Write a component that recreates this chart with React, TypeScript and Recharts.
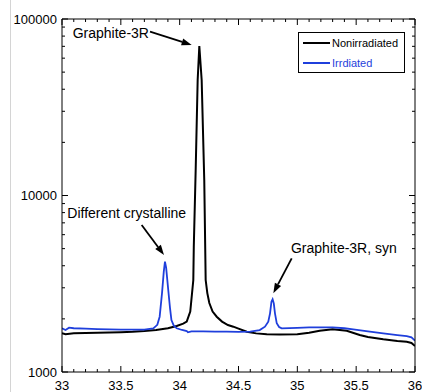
import React from "react"
import {
  LineChart,
  Line,
  XAxis,
  YAxis,
  Legend,
  ReferenceLine,
  ReferenceDot,
} from "recharts"

// ── Data ──────────────────────────────────────────────────────────────────────

// 2θ positions and counts
const nonirrX = [
  33.0, 33.03, 33.1, 33.2, 33.3, 33.4, 33.5, 33.6, 33.7, 33.8, 33.9, 33.975,
  34.03, 34.06, 34.09, 34.116, 34.12, 34.136, 34.153, 34.167, 34.187, 34.209,
  34.221, 34.235, 34.252, 34.28, 34.315, 34.36, 34.41, 34.456, 34.5, 34.57,
  34.65, 34.74, 34.85, 35.0, 35.1, 35.19, 35.3, 35.42, 35.53, 35.6, 35.73,
  35.85, 35.93, 35.97, 36.0,
]
const nonirrY = [
  1656, 1635, 1660, 1665, 1670, 1675, 1680, 1688, 1705, 1729, 1770, 1822,
  1880, 1930, 2200, 3320, 5110, 13900, 45100, 70300, 45100, 12240,
  3320, 2800, 2460, 2200, 2057, 1930, 1846, 1806, 1760, 1692,
  1655, 1635, 1630, 1635, 1670, 1714, 1746, 1714, 1620, 1580, 1532,
  1500, 1484, 1460, 1404,
]

const irrX = [
  33.0, 33.03, 33.06, 33.1, 33.2, 33.3, 33.4, 33.5, 33.6, 33.7, 33.776, 33.81,
  33.83, 33.85, 33.865, 33.875, 33.885, 33.903, 33.918, 33.93, 33.95, 33.975,
  34.02, 34.06, 34.07, 34.1, 34.2, 34.3, 34.4, 34.5, 34.6, 34.68, 34.725,
  34.753, 34.768, 34.78, 34.79, 34.8, 34.81, 34.825, 34.845, 34.867, 35.0,
  35.1, 35.2, 35.3, 35.4, 35.475, 35.6, 35.73, 35.85, 35.93, 35.97, 36.0,
]
const irrY = [
  1768, 1729, 1782, 1770, 1760, 1750, 1745, 1740, 1740, 1740, 1768, 1850,
  2057, 2800, 3700, 4217, 3900, 2915, 2300, 1970, 1830, 1768,
  1730, 1707, 1678, 1700, 1700, 1695, 1692, 1690, 1692, 1729, 1806,
  1928, 2150, 2500, 2582, 2450, 2150, 1888, 1800, 1768, 1780,
  1790, 1790, 1790, 1770, 1746, 1700, 1656, 1620, 1599, 1570, 1504,
]

const xMajorTicks = [33, 33.5, 34, 34.5, 35, 35.5, 36]
const xMinorTicks = [
  33.1, 33.2, 33.3, 33.4, 33.6, 33.7, 33.8, 33.9,
  34.1, 34.2, 34.3, 34.4, 34.6, 34.7, 34.8, 34.9,
  35.1, 35.2, 35.3, 35.4, 35.6, 35.7, 35.8, 35.9,
]
const yMajorTicks = [1000, 10000, 100000]
const yMinorTicks = [
  2000, 3000, 4000, 5000, 6000, 7000, 8000, 9000,
  20000, 30000, 40000, 50000, 60000, 70000, 80000, 90000,
]

const seriesNames = ["Nonirradiated", "Irrdiated"]

// annotation text anchor + arrow tail/tip, in data coordinates
const annotations = [
  { text: "Graphite-3R", tx: 33.091, ty: 78000, x1: 33.748, y1: 84700, x2: 34.102, y2: 71300 },
  { text: "Different crystalline", tx: 33.045, ty: 7456, x1: 33.677, y1: 6810, x2: 33.867, y2: 4605 },
  { text: "Graphite-3R, syn", tx: 34.946, ty: 4722, x1: 34.952, y1: 4403, x2: 34.796, y2: 2793 },
]

// ── Styling ───────────────────────────────────────────────────────────────────

const FONT = "'Liberation Sans', Arial, Helvetica, sans-serif"
const BLUE = "#1f3fdc"
const COLORS = ["#000000", BLUE]

const nonirrData = nonirrX.map((x, i) => ({ x, y: nonirrY[i] }))
const irrData = irrX.map((x, i) => ({ x, y: irrY[i] }))

const allXTicks = [...xMajorTicks, ...xMinorTicks].sort((a, b) => a - b)
const allYTicks = [...yMajorTicks, ...yMinorTicks].sort((a, b) => a - b)

// ── Ticks (drawn inward, like the original) ───────────────────────────────────

function XTick(props: any) {
  const { x, y, payload, side } = props
  const v = payload.value as number
  const major = xMajorTicks.includes(v)
  const len = major ? 6 : 3
  const dir = side === "bottom" ? -1 : 1
  return (
    <g>
      <line x1={x} y1={y} x2={x} y2={y + dir * len} stroke="#000" strokeWidth={1} />
      {side === "bottom" && major && (
        <text x={x} y={y + 18} textAnchor="middle" fontSize={13} fontFamily={FONT} fill="#000">
          {String(v)}
        </text>
      )}
    </g>
  )
}

function YTick(props: any) {
  const { x, y, payload, side } = props
  const v = payload.value as number
  const major = yMajorTicks.includes(v)
  const len = major ? 6 : 3
  const dir = side === "left" ? 1 : -1
  return (
    <g>
      <line x1={x} y1={y} x2={x + dir * len} y2={y} stroke="#000" strokeWidth={1} />
      {side === "left" && major && (
        <text x={x - 5} y={y} textAnchor="end" dominantBaseline="central" fontSize={13} fontFamily={FONT} fill="#000">
          {String(v)}
        </text>
      )}
    </g>
  )
}

// ── Arrow + label shapes ──────────────────────────────────────────────────────

function Arrow(props: any) {
  const { x1, y1, x2, y2 } = props
  const a = Math.atan2(y2 - y1, x2 - x1)
  const L = 10
  const W = 3.5
  const bx = x2 - L * Math.cos(a)
  const by = y2 - L * Math.sin(a)
  const px = -Math.sin(a) * W
  const py = Math.cos(a) * W
  return (
    <g>
      <line x1={x1} y1={y1} x2={bx} y2={by} stroke="#000" strokeWidth={1.8} />
      <polygon points={`${x2},${y2} ${bx + px},${by + py} ${bx - px},${by - py}`} fill="#000" />
    </g>
  )
}

function LegendBox() {
  return (
    <div
      style={{
        boxSizing: "border-box",
        width: 107,
        height: 41,
        border: "1px solid #000",
        background: "#fff",
        paddingLeft: 4,
        fontFamily: FONT,
        fontSize: 11,
      }}
    >
      {seriesNames.map((name, i) => (
        <div key={name} style={{ display: "flex", alignItems: "center", height: 20 }}>
          <span style={{ width: 27, height: 0, borderTop: `2px solid ${COLORS[i]}`, marginRight: 2 }} />
          <span style={{ color: i === 0 ? "#000" : BLUE }}>{name}</span>
        </div>
      ))}
    </div>
  )
}

// ── Component ─────────────────────────────────────────────────────────────────

export default function App() {
  return (
    <div style={{ position: "absolute", left: 0, top: 0, width: 422, height: 392, background: "#fff" }}>
      <div style={{ position: "absolute", left: 10, top: 0, width: 1, height: 392, background: "#d4d4d4" }} />
      <LineChart width={422} height={392} margin={{ top: 18, right: 6, bottom: 0, left: 0 }}>
        <XAxis
          xAxisId="b"
          type="number"
          dataKey="x"
          domain={[33, 36]}
          allowDataOverflow
          ticks={allXTicks}
          interval={0}
          tick={<XTick side="bottom" />}
          tickLine={false}
          tickSize={0}
          tickMargin={0}
          height={20}
          axisLine={{ stroke: "#000" }}
        />
        <XAxis
          xAxisId="t"
          orientation="top"
          type="number"
          dataKey="x"
          domain={[33, 36]}
          allowDataOverflow
          ticks={allXTicks}
          interval={0}
          tick={<XTick side="top" />}
          tickLine={false}
          tickSize={0}
          tickMargin={0}
          height={1}
          axisLine={{ stroke: "#000" }}
        />
        <YAxis
          yAxisId="l"
          type="number"
          scale="log"
          domain={[1000, 100000]}
          allowDataOverflow
          ticks={allYTicks}
          interval={0}
          tick={<YTick side="left" />}
          tickLine={false}
          tickSize={0}
          tickMargin={0}
          width={62}
          axisLine={{ stroke: "#000" }}
        />
        <YAxis
          yAxisId="r"
          orientation="right"
          type="number"
          scale="log"
          domain={[1000, 100000]}
          allowDataOverflow
          ticks={allYTicks}
          interval={0}
          tick={<YTick side="right" />}
          tickLine={false}
          tickSize={0}
          tickMargin={0}
          width={1}
          axisLine={{ stroke: "#000" }}
        />
        <Line
          xAxisId="b"
          yAxisId="l"
          data={nonirrData}
          dataKey="y"
          name={seriesNames[0]}
          stroke={COLORS[0]}
          strokeWidth={2}
          dot={false}
          type="linear"
          isAnimationActive={false}
        />
        <Line
          xAxisId="b"
          yAxisId="l"
          data={irrData}
          dataKey="y"
          name={seriesNames[1]}
          stroke={COLORS[1]}
          strokeWidth={1.8}
          dot={false}
          type="linear"
          isAnimationActive={false}
        />
        {annotations.map((a) => (
          <ReferenceLine
            key={"arr-" + a.text}
            xAxisId="b"
            yAxisId="l"
            segment={[{ x: a.x1, y: a.y1 }, { x: a.x2, y: a.y2 }]}
            shape={(p: any) => <Arrow {...p} />}
            ifOverflow="visible"
          />
        ))}
        {annotations.map((a) => (
          <ReferenceDot
            key={"txt-" + a.text}
            xAxisId="b"
            yAxisId="l"
            x={a.tx}
            y={a.ty}
            r={0}
            ifOverflow="visible"
            shape={(p: any) => (
              <text x={p.cx} y={p.cy} fontSize={14} fontFamily={FONT} fill="#000">
                {a.text}
              </text>
            )}
          />
        ))}
        <Legend
          layout="vertical"
          align="center"
          verticalAlign="middle"
          content={() => <LegendBox />}
          wrapperStyle={{ position: "absolute", left: 298, top: 32, width: 107, height: 41 }}
        />
      </LineChart>
    </div>
  )
}
